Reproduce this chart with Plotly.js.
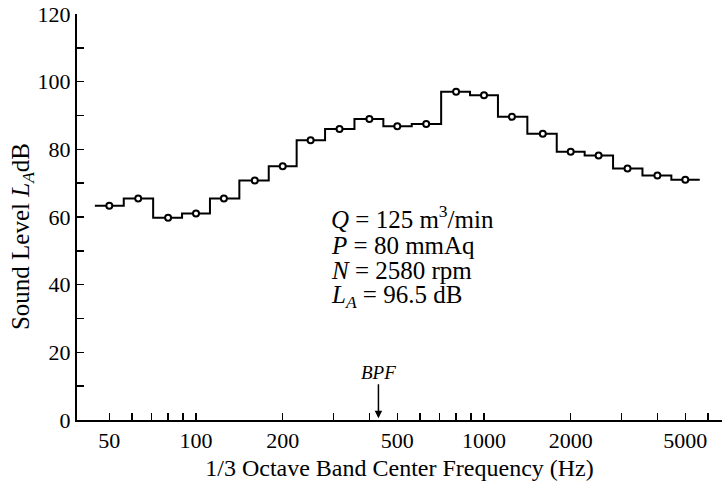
<!DOCTYPE html>
<html><head><meta charset="utf-8">
<script src="https://cdn.plot.ly/plotly-3.0.1.min.js"></script>
<style>html,body{margin:0;padding:0;background:#fff}#chart{width:722px;height:485px}</style>
</head><body><div id="chart"></div>
<script>
const bandCenters = [50,63,80,100,125,160,200,250,315,400,500,630,800,1000,1250,1600,2000,2500,3150,4000,5000];
const soundLevels = [63.3,65.5,59.8,61.0,65.5,70.8,75.0,82.7,86.0,89.0,86.8,87.5,97.0,96.0,89.6,84.6,79.3,78.2,74.3,72.3,71.0];
const xTickVals = [50,100,200,500,1000,2000,5000];
const xTickText = ['50','100','200','500','1000','2000','5000'];
const xMinorVals = [60,70,80,90,300,400,600,700,800,900,3000,4000,6000];
const yTickVals = [0,20,40,60,80,100,120];
const yTickText = ['0','20','40','60','80','100','120'];
const xTitle = '1/3 Octave Band Center Frequency (Hz)';
const yTitle = 'Sound Level <i>L<sub>A</sub></i>dB';
const noteLines = ['<i>Q</i> = 125 m<sup>3</sup>/min','<i>P</i> = 80 mmAq','<i>N</i> = 2580 rpm','<i>L<sub>A</sub></i> = 96.5 dB'];
const bpfLabel = '<i>BPF</i>';
const bpfFreq = 430;

// band edges (1/3 octave) from centers
const n = bandCenters.length;
const edges = [bandCenters[0] / Math.pow(2, 1/6)];
for (let i = 1; i < n; i++) edges.push(Math.sqrt(bandCenters[i-1] * bandCenters[i]));
edges.push(bandCenters[n-1] * Math.pow(2, 1/6));
const stepY = soundLevels.concat([soundLevels[n-1]]);

const FONT = 'Liberation Serif, Times New Roman, serif';

const traces = [
  {x: edges, y: stepY, type: 'scatter', mode: 'lines', line: {shape: 'hv', color: '#000', width: 2}, hoverinfo: 'skip'},
  {x: bandCenters, y: soundLevels, type: 'scatter', mode: 'markers',
   marker: {symbol: 'circle', size: 6, color: '#fff', line: {color: '#000', width: 2}}}
];

const noteY = [0.500, 0.430, 0.369, 0.304];
const annotations = noteLines.map((t, i) => ({
  text: t, xref: 'paper', yref: 'paper', x: 0.391, y: noteY[i], xanchor: 'left', yanchor: 'middle',
  showarrow: false, font: {family: FONT, size: 25, color: '#000'}
}));
annotations.push({
  text: bpfLabel, x: Math.log10(bpfFreq), y: 0.5, xref: 'x', yref: 'y',
  showarrow: true, ax: 0, ay: -46, arrowhead: 2, arrowsize: 1, arrowwidth: 1.5, arrowcolor: '#000',
  font: {family: FONT, size: 19, color: '#000'}
});
annotations.push({
  text: yTitle, xref: 'paper', yref: 'paper', x: -0.0853, y: 0.453, xanchor: 'center', yanchor: 'middle',
  textangle: -90, showarrow: false, font: {family: FONT, size: 25, color: '#000'}
});

const layout = {
  width: 722, height: 485,
  margin: {l: 77, r: 0, t: 14, b: 65},
  paper_bgcolor: '#fff', plot_bgcolor: '#fff',
  showlegend: false,
  font: {family: FONT, size: 22, color: '#000'},
  xaxis: {
    type: 'log', range: [1.5868, 3.8264],
    tickmode: 'array', tickvals: xTickVals, ticktext: xTickText,
    ticks: 'inside', ticklen: 7, tickwidth: 1.5, tickcolor: '#000',
    minor: {tickmode: 'array', tickvals: xMinorVals, ticks: 'inside', ticklen: 7, tickwidth: 1.5, tickcolor: '#000', showgrid: false},
    showline: true, linewidth: 2, linecolor: '#000', showgrid: false, zeroline: false,
    tickfont: {family: FONT, size: 22, color: '#000'},
    title: {text: xTitle, font: {family: FONT, size: 24, color: '#000'}, standoff: 7}
  },
  yaxis: {
    range: [0, 120],
    tickmode: 'array', tickvals: yTickVals, ticktext: yTickText,
    ticks: 'inside', ticklen: 7, tickwidth: 1.5, tickcolor: '#000',
    minor: {dtick: 10, ticks: 'inside', ticklen: 7, tickwidth: 1.5, tickcolor: '#000', showgrid: false},
    showline: true, linewidth: 2, linecolor: '#000', showgrid: false, zeroline: false,
    tickfont: {family: FONT, size: 22, color: '#000'}
  },
  annotations: annotations
};

Plotly.newPlot('chart', traces, layout, {displayModeBar: false, staticPlot: true});
</script>
</body></html>
